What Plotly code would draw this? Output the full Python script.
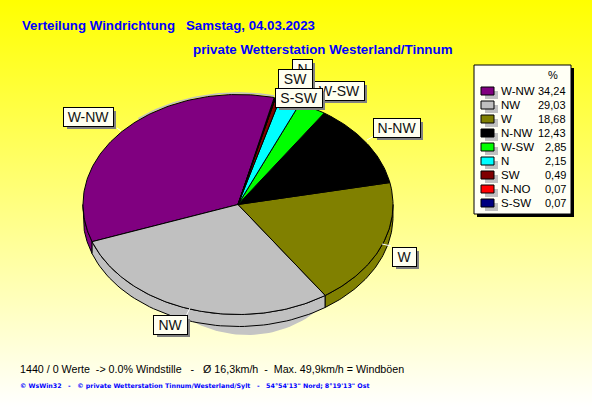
import numpy as np
import plotly.graph_objects as go

# --- data ---
categories = ["W-NW", "NW", "W", "N-NW", "W-SW", "N", "SW", "N-NO", "S-SW"]
values = [34.24, 29.03, 18.68, 12.43, 2.85, 2.15, 0.49, 0.07, 0.07]
value_labels = ["34,24", "29,03", "18,68", "12,43", "2,85", "2,15", "0,49", "0,07", "0,07"]
colors = ["#800080", "#c0c0c0", "#808000", "#000000", "#00ff00", "#00ffff", "#800000", "#ff0000", "#000080"]

title_1 = "Verteilung Windrichtung   Samstag, 04.03.2023"
title_2 = "private Wetterstation Westerland/Tinnum"
stats_line = "1440 / 0 Werte  -> 0.0% Windstille   -   Ø 16,3km/h  -  Max. 49,9km/h = Windböen"
footer_line = "© WsWin32   -   © private Wetterstation Tinnum/Westerland/Sylt   -   54°54'13\" Nord; 8°19'13\" Ost"

W, H = 592, 407
CX, CY, A, B, DEPTH = 238, 204.5, 155, 110, 12
START = 13.5  # clock angle where the first slice begins; slices run counter-clockwise
SANS = "Liberation Sans, Arial, sans-serif"


def ell(t_deg, dy=0.0):
    t = np.radians(t_deg)
    return CX + A * np.sin(t), CY + dy - B * np.cos(t)


fig = go.Figure()

# background gradient
fig.add_trace(go.Scatter(
    x=[0, W, W, 0, 0], y=[0, 0, H, H, 0], mode="lines", line=dict(width=0),
    fill="toself", hoverinfo="skip",
    fillgradient=dict(type="vertical", start=0, stop=H,
                      colorscale=[[0, "#ffff00"], [1, "#ffffff"]]),
))

# drop shadow under the pie
ts = np.linspace(0, 360, 181)
fig.add_trace(go.Scatter(
    x=247 + 105 * np.sin(np.radians(ts)), y=240 - 95 * np.cos(np.radians(ts)),
    mode="lines", line=dict(width=0), fill="toself", fillcolor="#c4c4c4", hoverinfo="skip"))

# angular extents from the values
total = sum(values)
spans = [v / total * 360 for v in values]
ends = START - np.cumsum(spans)
starts = ends + np.array(spans)

# side wall of the front half
for s, e, c in zip(starts, ends, colors):
    a0, a1 = s % 360, (e % 360)
    if a1 > a0:
        a0 += 360
    # a0 > a1 running counter-clockwise; clip to the lower half (90..270)
    for shift in (0, -360):
        h = min(a0 + shift, 270)
        l = max(a1 + shift, 90)
        if h > l:
            t = np.linspace(l, h, 60)
            x1, y1 = ell(t)
            x2, y2 = ell(t[::-1], DEPTH)
            fig.add_trace(go.Scatter(
                x=np.r_[x1, x2, x1[0]], y=np.r_[y1, y2, y1[0]], mode="lines",
                line=dict(color="#000000", width=1), fill="toself", fillcolor=c, hoverinfo="skip"))

# thin back rim
t = np.linspace(-40, START, 40)
rx, ry = ell(t, -1.5)
fig.add_trace(go.Scatter(x=rx, y=ry, mode="lines", line=dict(color="#c0c0c0", width=1.5), hoverinfo="skip"))

# top face
for s, e, c in zip(starts, ends, colors):
    t = np.linspace(s, e, max(3, int(abs(s - e)) + 2))
    x, y = ell(t)
    fig.add_trace(go.Scatter(
        x=np.r_[CX, x, CX], y=np.r_[CY, y, CY], mode="lines",
        line=dict(color="#000000", width=1), fill="toself", fillcolor=c,
        name="", hoverinfo="skip"))

shapes = []
ann = []


def text(x, y, s, size, color="#000000", bold=False, anchor="left", family=SANS):
    ann.append(dict(x=x, y=y, xref="x", yref="y", text=f"<b>{s}</b>" if bold else s, showarrow=False,
                    xanchor=anchor, yanchor="middle", font=dict(family=family, size=size, color=color),
                    borderpad=0, borderwidth=0))


def rect(x0, y0, x1, y1, fill, line=None):
    shapes.append(dict(type="rect", xref="x", yref="y", x0=x0, y0=y0, x1=x1, y1=y1, fillcolor=fill,
                       line=dict(color=line or fill, width=1 if line else 0), layer="above"))


# leader lines
for (x0, y0, x1, y1) in [(367, 140, 374, 136), (190, 308, 186, 316), (117, 128, 121, 131), (382, 244, 391, 246)]:
    shapes.append(dict(type="line", xref="x", yref="y", x0=x0, y0=y0, x1=x1, y1=y1,
                       line=dict(color="#ffffff", width=1), layer="above"))

# slice labels (later ones overlap earlier ones)
label_boxes = {
    "N": (292, 59, 312, 78), "W-SW": (314, 81, 364, 100), "SW": (278, 69, 312, 88), "S-SW": (275, 88, 322, 107),
    "N-NW": (373, 118, 420, 137), "W-NW": (63, 107, 113, 126), "W": (392, 247, 416, 266), "NW": (153, 315, 187, 334),
}
for name, (x0, y0, x1, y1) in label_boxes.items():
    common = dict(xref="x", yref="y", showarrow=False, xanchor="center", yanchor="middle",
                  width=x1 - x0 - 1, height=y1 - y0 - 1, borderpad=0)
    ann.append(dict(x=(x0 + x1) / 2 + 3.5, y=(y0 + y1) / 2 + 3.5, text=" ", bgcolor="#808080", borderwidth=0,
                    font=dict(size=12), **common))
    ann.append(dict(x=(x0 + x1) / 2, y=(y0 + y1) / 2, text=name, bgcolor="#fffff0", bordercolor="#000000",
                    borderwidth=1, font=dict(family=SANS, size=14, color="#111111"), **common))

# legend panel
rect(477, 68, 574, 217, "#000000")
rect(474, 65, 571, 214, "#fffff5", "#000000")
text(553, 75, "%", 11, anchor="center")
for i, (n, v, c) in enumerate(zip(categories, value_labels, colors)):
    yc = 91 + i * 14
    rect(485, yc - 0, 498, yc + 8, "#c0c0c0")
    rect(481, yc - 4, 494, yc + 4, c, "#000000")
    text(501, yc, n, 11.5)
    text(566, yc, v, 11, anchor="right")

# titles and footers
text(22, 25, title_1, 13.25, "#0000ff", bold=True)
text(193, 49, title_2, 13.35, "#0000ff", bold=True)
text(20, 369, stats_line, 10.7)
text(20, 386, footer_line, 6.3, "#0000ff", bold=True, family="DejaVu Sans, sans-serif")

fig.update_layout(
    width=W, height=H, margin=dict(l=0, r=0, t=0, b=0), showlegend=False,
    paper_bgcolor="#ffffff", plot_bgcolor="#ffffff",
    xaxis=dict(range=[0, W], visible=False, fixedrange=True),
    yaxis=dict(range=[H, 0], visible=False, fixedrange=True),
    shapes=shapes, annotations=ann,
)
fig.write_html("out.html", config=dict(displayModeBar=False),
               post_script="document.body.style.margin='0';document.body.style.overflow='hidden';")
